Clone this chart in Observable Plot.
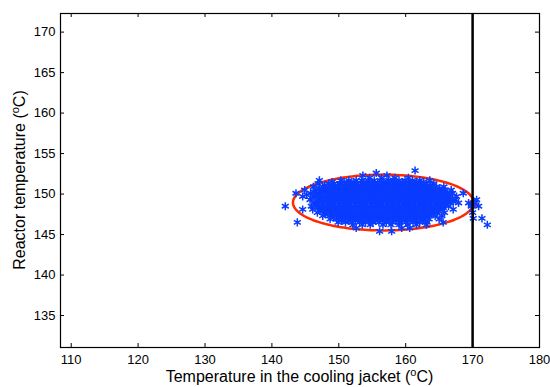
<!DOCTYPE html>
<html><head><meta charset="utf-8">
<script src="https://cdn.jsdelivr.net/npm/d3@7"></script>
<script src="https://cdn.jsdelivr.net/npm/@observablehq/plot@0.6"></script>
<style>body{margin:0;background:#fff}</style>
</head><body><div id="chart"></div>
<script>
const xTicks = [110, 120, 130, 140, 150, 160, 170, 180];
const yTicks = [135, 140, 145, 150, 155, 160, 165, 170];
const xDomain = [108.4, 180];
const yDomain = [131.05, 172.3];
const xLabel = ["Temperature in the cooling jacket (", "o", "C)"];
const yLabel = ["Reactor temperature (", "o", "C)"];
const limitJacket = [170];
const ellipseCenter = [156.65, 148.95];
const ellipseRadii = [13.5, 3.44];
const limitPoint = [[170.1, 148.8]];

// samples: reactor temperature row -> jacket temperatures
const sampleRows = [
  {reactor: 152.9, jacket: [161.4]},
  {reactor: 152.6, jacket: [155.6]},
  {reactor: 152.3, jacket: [153.6, 157.2]},
  {reactor: 152.0, jacket: [154.6, 156.4, 158.4, 160.4]},
  {reactor: 151.7, jacket: [147.1, 150.3, 151.5, 152.6, 153.4, 154.4, 155.3, 156.2, 157.4, 158.1, 159.0, 159.9, 161.0, 162.1, 163.6]},
  {reactor: 151.5, jacket: [149.0, 150.8, 152.2, 153.9, 154.9, 156.7, 157.8, 158.6, 159.5, 160.4, 161.6, 162.7]},
  {reactor: 151.3, jacket: [146.9, 148.5, 149.3, 150.2, 151.2, 151.9, 152.8, 153.6, 154.3, 155.1, 155.8, 156.7, 157.4, 158.3, 159.0, 159.7, 160.6, 161.4, 162.3, 163.1, 164.2]},
  {reactor: 151.1, jacket: [147.9, 148.9, 149.8, 150.6, 151.5, 152.4, 153.2, 153.9, 154.7, 155.5, 156.2, 157.0, 157.8, 158.7, 159.4, 160.2, 161.0, 161.8, 162.7, 163.6]},
  {reactor: 150.9, jacket: [146.2, 147.6, 148.5, 149.3, 150.0, 150.9, 151.7, 152.4, 153.3, 154.1, 154.8, 155.7, 156.5, 157.2, 158.1, 158.9, 159.6, 160.5, 161.3, 162.0, 162.9, 163.7, 164.6, 165.7]},
  {reactor: 150.7, jacket: [147.1, 148.0, 148.9, 149.6, 150.5, 151.3, 152.0, 152.9, 153.7, 154.4, 155.3, 156.1, 156.8, 157.7, 158.5, 159.2, 160.1, 160.9, 161.6, 162.5, 163.3, 164.1, 165.1]},
  {reactor: 150.5, jacket: [144.9, 146.6, 147.4, 148.3, 149.0, 149.8, 150.6, 151.3, 152.2, 153.0, 153.7, 154.6, 155.4, 156.1, 157.0, 157.8, 158.5, 159.4, 160.2, 160.9, 161.8, 162.6, 163.3, 164.2, 165.0, 165.8, 166.8]},
  {reactor: 150.3, jacket: [146.2, 147.4, 148.2, 149.1, 149.8, 150.7, 151.5, 152.2, 153.1, 153.9, 154.6, 155.5, 156.3, 157.0, 157.9, 158.7, 159.4, 160.3, 161.1, 161.8, 162.7, 163.5, 164.2, 165.1, 165.9]},
  {reactor: 150.1, jacket: [143.6, 145.8, 147.0, 147.8, 148.7, 149.4, 150.2, 151.1, 151.8, 152.6, 153.5, 154.2, 155.0, 155.9, 156.6, 157.4, 158.3, 159.0, 159.8, 160.7, 161.4, 162.2, 163.1, 163.8, 164.6, 165.5, 166.2, 167.0, 168.6]},
  {reactor: 149.9, jacket: [145.2, 146.6, 147.4, 148.3, 149.0, 149.9, 150.7, 151.4, 152.3, 153.1, 153.8, 154.7, 155.5, 156.2, 157.1, 157.9, 158.6, 159.5, 160.3, 161.0, 161.9, 162.7, 163.4, 164.3, 165.1, 165.9, 166.6]},
  {reactor: 149.7, jacket: [144.6, 146.3, 147.3, 148.2, 148.9, 149.8, 150.6, 151.4, 152.1, 153.0, 153.8, 154.5, 155.4, 156.2, 156.9, 157.8, 158.6, 159.3, 160.2, 161.0, 161.7, 162.6, 163.4, 164.1, 165.0, 165.8, 166.5, 167.6]},
  {reactor: 149.5, jacket: [146.0, 147.1, 147.9, 148.8, 149.6, 150.4, 151.2, 152.0, 152.8, 153.6, 154.4, 155.2, 156.0, 156.8, 157.6, 158.4, 159.2, 160.0, 160.8, 161.6, 162.4, 163.2, 164.0, 164.8, 165.6, 166.6]},
  {reactor: 149.3, jacket: [145.7, 146.9, 147.7, 148.6, 149.3, 150.2, 151.0, 151.7, 152.6, 153.4, 154.1, 155.0, 155.8, 156.5, 157.4, 158.2, 158.9, 159.8, 160.6, 161.3, 162.2, 163.0, 163.7, 164.6, 165.4, 166.3, 167.4, 170.6]},
  {reactor: 149.1, jacket: [146.8, 147.8, 148.6, 149.4, 150.2, 151.0, 151.8, 152.6, 153.4, 154.2, 155.0, 155.8, 156.6, 157.4, 158.2, 159.0, 159.8, 160.6, 161.4, 162.2, 163.0, 163.8, 164.6, 165.4, 166.2, 167.1]},
  {reactor: 148.9, jacket: [146.3, 147.4, 148.2, 149.0, 149.8, 150.5, 151.4, 152.2, 152.9, 153.8, 154.6, 155.3, 156.2, 157.0, 157.7, 158.6, 159.4, 160.1, 161.0, 161.8, 162.5, 163.4, 164.2, 164.9, 165.8, 166.7, 167.9, 169.4, 170.3]},
  {reactor: 148.7, jacket: [146.6, 147.6, 148.4, 149.2, 150.0, 150.8, 151.6, 152.4, 153.2, 154.0, 154.8, 155.6, 156.4, 157.2, 158.0, 158.8, 159.6, 160.4, 161.2, 162.0, 162.8, 163.6, 164.4, 165.2, 166.0]},
  {reactor: 148.5, jacket: [142.0, 145.9, 147.0, 147.9, 148.6, 149.5, 150.3, 151.0, 151.9, 152.7, 153.4, 154.3, 155.1, 155.8, 156.7, 157.5, 158.2, 159.1, 159.9, 160.6, 161.5, 162.3, 163.0, 163.9, 164.7, 165.5, 166.4, 169.8, 170.9]},
  {reactor: 148.3, jacket: [146.9, 147.8, 148.6, 149.4, 150.2, 151.0, 151.8, 152.6, 153.4, 154.2, 155.0, 155.8, 156.6, 157.4, 158.2, 159.0, 159.8, 160.6, 161.4, 162.2, 163.0, 163.8, 164.6, 165.6]},
  {reactor: 148.1, jacket: [144.6, 146.1, 147.4, 148.3, 149.0, 149.9, 150.7, 151.4, 152.3, 153.1, 153.8, 154.7, 155.5, 156.2, 157.1, 157.9, 158.6, 159.5, 160.3, 161.0, 161.9, 162.7, 163.4, 164.3, 165.1, 167.1]},
  {reactor: 147.9, jacket: [147.2, 148.0, 148.8, 149.6, 150.4, 151.2, 152.0, 152.8, 153.6, 154.4, 155.2, 156.0, 156.8, 157.6, 158.4, 159.2, 160.0, 160.8, 161.6, 162.4, 163.2, 164.0, 164.9]},
  {reactor: 147.7, jacket: [146.8, 147.9, 148.7, 149.4, 150.3, 151.1, 151.8, 152.7, 153.5, 154.2, 155.1, 155.9, 156.6, 157.5, 158.3, 159.0, 159.9, 160.7, 161.4, 162.3, 163.1, 163.8, 164.7, 165.8, 170.0]},
  {reactor: 147.5, jacket: [148.0, 149.0, 149.8, 150.6, 151.4, 152.2, 153.0, 153.8, 154.6, 155.4, 156.2, 157.0, 157.8, 158.6, 159.4, 160.2, 161.0, 161.8, 162.6, 163.4, 164.1]},
  {reactor: 147.3, jacket: [147.6, 148.6, 149.3, 150.1, 150.9, 151.6, 152.5, 153.3, 154.0, 154.9, 155.7, 156.4, 157.3, 158.1, 158.8, 159.7, 160.5, 161.2, 162.1, 162.9, 163.6, 164.4, 165.4]},
  {reactor: 147.1, jacket: [149.2, 150.1, 150.9, 151.7, 152.5, 153.3, 154.1, 154.9, 155.7, 156.5, 157.3, 158.1, 158.9, 159.7, 160.5, 161.3, 162.1, 163.0]},
  {reactor: 147.0, jacket: [170.1, 171.4]},
  {reactor: 146.9, jacket: [148.7, 149.7, 150.5, 151.3, 152.1, 152.9, 153.7, 154.5, 155.3, 156.1, 156.9, 157.7, 158.5, 159.3, 160.1, 160.9, 161.7, 162.6, 163.5, 165.0]},
  {reactor: 146.7, jacket: [150.4, 151.5, 152.5, 153.5, 154.5, 155.5, 156.5, 157.5, 158.5, 159.5, 160.5, 161.5, 162.5]},
  {reactor: 146.5, jacket: [143.8, 149.9, 151.0, 152.0, 153.1, 154.0, 155.1, 156.0, 157.1, 158.0, 159.1, 160.0, 161.1, 162.1, 163.2, 165.6]},
  {reactor: 146.2, jacket: [152.1, 153.5, 154.7, 156.6, 157.8, 159.0, 160.3, 161.6, 163.1, 172.2]},
  {reactor: 145.8, jacket: [152.6, 159.4, 160.6]},
  {reactor: 145.4, jacket: [156.1, 157.9]}
];

const samples = sampleRows.flatMap(r => r.jacket.map(x => ({x, y: r.reactor})));
const ellipsePts = d3.range(0, 361, 2).map(t => ({
  x: ellipseCenter[0] + ellipseRadii[0] * Math.cos(t * Math.PI / 180),
  y: ellipseCenter[1] + ellipseRadii[1] * Math.sin(t * Math.PI / 180)
}));

const W = 550, H = 387, mL = 60, mR = 11, mT = 13, mB = 40;
const fw = W - mL - mR, fh = H - mT - mB;

const chart = Plot.plot({
  width: W, height: H,
  marginLeft: mL, marginRight: mR, marginTop: mT, marginBottom: mB,
  style: {fontFamily: "'Liberation Sans', Arial, sans-serif", fontSize: "13px", color: "black", background: "white"},
  x: {domain: xDomain},
  y: {domain: yDomain},
  marks: [
    Plot.line(ellipsePts, {x: "x", y: "y", stroke: "#ff2a00", strokeWidth: 2.5}),
    Plot.dot(limitPoint, {x: d => d[0], y: d => d[1], r: 4.5, fill: "#ff1a00"}),
    Plot.dot(samples, {x: "x", y: "y", symbol: "asterisk", r: 3.8, stroke: "#0a3cff", strokeWidth: 1.5}),
    Plot.ruleX(limitJacket, {stroke: "black", strokeWidth: 2.5}),
    Plot.tickX(xTicks, {x: d => d, insetTop: fh - 4, stroke: "black"}),
    Plot.tickX(xTicks, {x: d => d, insetBottom: fh - 4, stroke: "black"}),
    Plot.tickY(yTicks, {y: d => d, insetRight: fw - 4, stroke: "black"}),
    Plot.tickY(yTicks, {y: d => d, insetLeft: fw - 4, stroke: "black"}),
    Plot.axisX({ticks: xTicks, tickSize: 0, tickPadding: 7, label: null}),
    Plot.axisY({ticks: yTicks, tickSize: 0, tickPadding: 5, label: null}),
    Plot.frame({stroke: "black", strokeWidth: 1.2})
  ]
});

const svg = d3.select(chart);
function addLabel(parts, transform) {
  const t = svg.append("text")
    .attr("transform", transform)
    .attr("text-anchor", "middle")
    .attr("font-size", 16)
    .attr("font-family", "'Liberation Sans', Arial, sans-serif")
    .attr("fill", "black");
  t.append("tspan").text(parts[0]);
  t.append("tspan").attr("dy", -6).attr("font-size", 11).text(parts[1]);
  t.append("tspan").attr("dy", 6).text(parts[2]);
}
addLabel(xLabel, `translate(${mL + fw / 2},382)`);
addLabel(yLabel, `translate(25,${mT + fh / 2}) rotate(-90)`);

document.getElementById("chart").appendChild(chart);
</script>
</body></html>
